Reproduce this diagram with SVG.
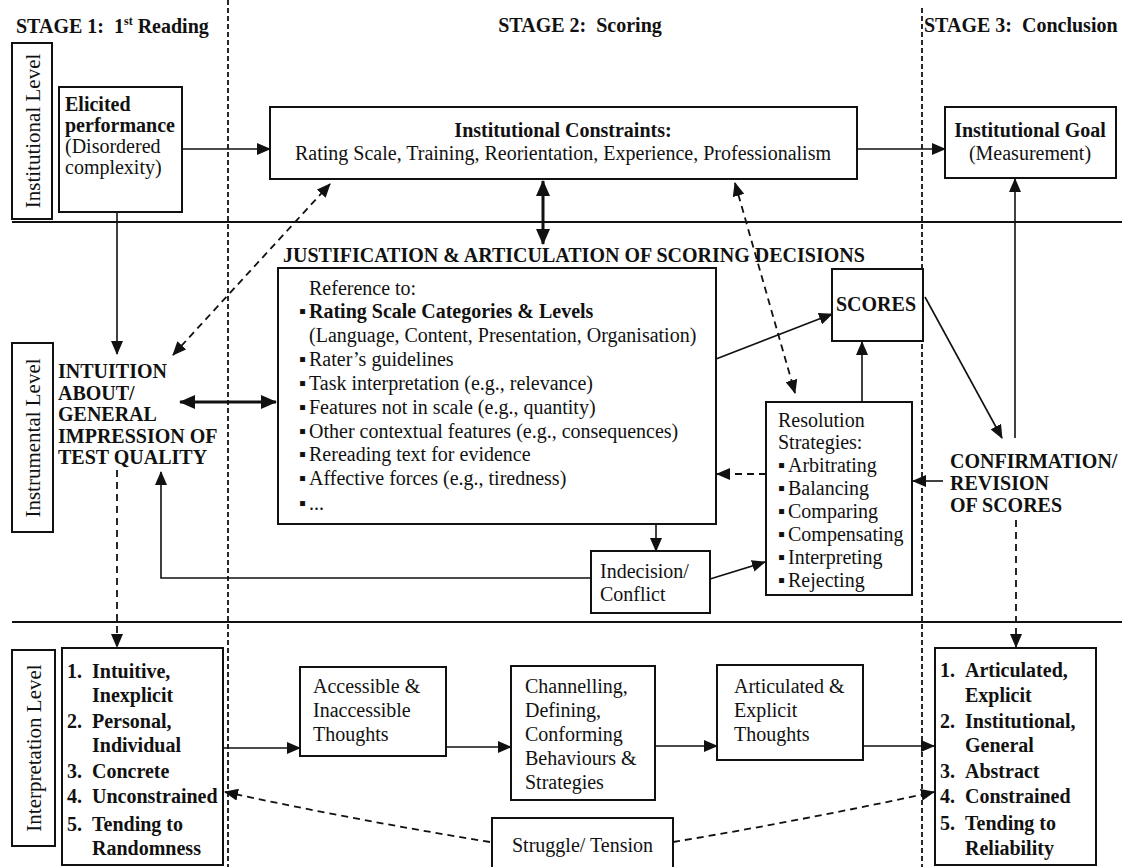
<svg xmlns="http://www.w3.org/2000/svg" width="1128" height="867" viewBox="0 0 1128 867">
<style>
text{font-family:"Liberation Serif","Times New Roman",serif;fill:#111;font-size:20px}
.b{font-weight:bold}
.hd{font-weight:bold;font-size:20px}
.lv{font-size:21px}
.box{fill:#fff;stroke:#111;stroke-width:2}
.sep{stroke:#111;stroke-width:2}
.vd{stroke:#111;stroke-width:1.8;stroke-dasharray:5 3;fill:none}
.c{stroke:#111;stroke-width:1.6;fill:none}
.ck{stroke:#111;stroke-width:3;fill:none}
.cd{stroke:#111;stroke-width:1.8;stroke-dasharray:7 5;fill:none}
</style>
<defs>
<marker id="ah" viewBox="0 0 14 12" refX="13" refY="6" markerWidth="14" markerHeight="12" markerUnits="userSpaceOnUse" orient="auto-start-reverse">
<path d="M0,0 L14,6 L0,12 z" fill="#111"/>
</marker>
<marker id="ahk" viewBox="0 0 16 14" refX="15" refY="7" markerWidth="16" markerHeight="14" markerUnits="userSpaceOnUse" orient="auto-start-reverse">
<path d="M0,0 L16,7 L0,14 z" fill="#111"/>
</marker>
</defs>
<rect x="0" y="0" width="1128" height="867" fill="#fff"/>

<g id="frame">
<line class="vd" x1="228" y1="0" x2="228" y2="867"/>
<line class="vd" x1="922" y1="8" x2="922" y2="867"/>
<line class="sep" x1="12" y1="222" x2="1122" y2="222"/>
<line class="sep" x1="12" y1="622" x2="1122" y2="622"/>
<text class="hd" x="16" y="33">STAGE 1:&#160; 1<tspan font-size="12" dy="-8">st</tspan><tspan dy="8"> Reading</tspan></text>
<text class="hd" x="580" y="32" text-anchor="middle">STAGE 2:&#160; Scoring</text>
<text class="hd" x="924" y="32">STAGE 3:&#160; Conclusion</text>
</g>

<g id="level-institutional">
<rect class="box" x="12" y="43" width="40" height="176"/>
<text class="lv" transform="translate(40,131) rotate(-90)" text-anchor="middle">Institutional Level</text>
</g>
<g id="level-instrumental">
<rect class="box" x="12" y="343" width="41" height="189"/>
<text class="lv" transform="translate(40,438) rotate(-90)" text-anchor="middle">Instrumental Level</text>
</g>
<g id="level-interpretation">
<rect class="box" x="12" y="650" width="43" height="196"/>
<text class="lv" transform="translate(41,748) rotate(-90)" text-anchor="middle">Interpretation Level</text>
</g>

<g id="elicited">
<rect class="box" x="59" y="87" width="123" height="125"/>
<text x="65" y="111"><tspan class="b">Elicited</tspan><tspan class="b" x="65" dy="21">performance</tspan><tspan x="65" dy="21">(Disordered</tspan><tspan x="65" dy="21">complexity)</tspan></text>
</g>

<g id="constraints">
<rect class="box" x="270" y="107" width="587" height="72"/>
<text class="b" x="563" y="137" text-anchor="middle">Institutional Constraints:</text>
<text x="563" y="160" text-anchor="middle">Rating Scale, Training, Reorientation, Experience, Professionalism</text>
</g>

<g id="goal">
<rect class="box" x="945" y="107" width="171" height="71"/>
<text class="b" x="1030" y="137" text-anchor="middle">Institutional Goal</text>
<text x="1030" y="160" text-anchor="middle">(Measurement)</text>
</g>

<g id="intuition">
<text class="b" x="58" y="378">INTUITION<tspan x="58" dy="21.5">ABOUT/</tspan><tspan x="58" dy="21.5">GENERAL</tspan><tspan x="58" dy="21.5">IMPRESSION OF</tspan><tspan x="58" dy="21.5">TEST QUALITY</tspan></text>
</g>

<g id="justification">
<text class="b" x="283" y="262" font-size="19.5">JUSTIFICATION &amp; ARTICULATION OF SCORING DECISIONS</text>
<rect class="box" x="278" y="268" width="438" height="256"/>
<text x="309" y="295">Reference to:</text>
<text x="299" y="318"><tspan>▪</tspan><tspan class="b" x="309">Rating Scale Categories &amp; Levels</tspan></text>
<text x="309" y="342">(Language, Content, Presentation, Organisation)</text>
<text x="299" y="366">▪<tspan x="309">Rater’s guidelines</tspan></text>
<text x="299" y="390">▪<tspan x="309">Task interpretation (e.g., relevance)</tspan></text>
<text x="299" y="414">▪<tspan x="309">Features not in scale (e.g., quantity)</tspan></text>
<text x="299" y="438">▪<tspan x="309">Other contextual features (e.g., consequences)</tspan></text>
<text x="299" y="461">▪<tspan x="309">Rereading text for evidence</tspan></text>
<text x="299" y="485">▪<tspan x="309">Affective forces (e.g., tiredness)</tspan></text>
<text x="299" y="510">▪<tspan x="309">...</tspan></text>
</g>

<g id="scores">
<rect class="box" x="832" y="269" width="91" height="72"/>
<text class="b" x="836" y="311">SCORES</text>
</g>

<g id="resolution">
<rect class="box" x="766" y="402" width="146" height="193"/>
<text x="778" y="427">Resolution</text>
<text x="778" y="449">Strategies:</text>
<text x="778" y="472">▪<tspan x="788">Arbitrating</tspan></text>
<text x="778" y="495">▪<tspan x="788">Balancing</tspan></text>
<text x="778" y="518">▪<tspan x="788">Comparing</tspan></text>
<text x="778" y="541">▪<tspan x="788">Compensating</tspan></text>
<text x="778" y="564">▪<tspan x="788">Interpreting</tspan></text>
<text x="778" y="587">▪<tspan x="788">Rejecting</tspan></text>
</g>

<g id="confirmation">
<text class="b" x="950" y="468" font-size="19">CONFIRMATION/<tspan x="950" dy="22">REVISION</tspan><tspan x="950" dy="22">OF SCORES</tspan></text>
</g>

<g id="indecision">
<rect class="box" x="591" y="551" width="119" height="62"/>
<text x="600" y="578">Indecision/<tspan x="600" dy="23">Conflict</tspan></text>
</g>

<g id="left-list">
<rect class="box" x="62" y="648" width="161" height="217"/>
<text class="b" x="67" y="678">1.<tspan x="92">Intuitive,</tspan><tspan x="92" dy="24">Inexplicit</tspan></text>
<text class="b" x="67" y="728">2.<tspan x="92">Personal,</tspan><tspan x="92" dy="24">Individual</tspan></text>
<text class="b" x="67" y="778">3.<tspan x="92">Concrete</tspan></text>
<text class="b" x="67" y="803">4.<tspan x="92">Unconstrained</tspan></text>
<text class="b" x="67" y="831">5.<tspan x="92">Tending to</tspan><tspan x="92" dy="24">Randomness</tspan></text>
</g>

<g id="accessible">
<rect class="box" x="300" y="667" width="146" height="89"/>
<text x="313" y="693">Accessible &amp;<tspan x="313" dy="24">Inaccessible</tspan><tspan x="313" dy="24">Thoughts</tspan></text>
</g>

<g id="channelling">
<rect class="box" x="511" y="666" width="144" height="134"/>
<text x="525" y="693">Channelling,<tspan x="525" dy="24">Defining,</tspan><tspan x="525" dy="24">Conforming</tspan><tspan x="525" dy="24">Behaviours &amp;</tspan><tspan x="525" dy="24">Strategies</tspan></text>
</g>

<g id="articulated">
<rect class="box" x="717" y="665" width="146" height="95"/>
<text x="734" y="693">Articulated &amp;<tspan x="734" dy="24">Explicit</tspan><tspan x="734" dy="24">Thoughts</tspan></text>
</g>

<g id="right-list">
<rect class="box" x="935" y="648" width="161" height="217"/>
<text class="b" x="940" y="677">1.<tspan x="965">Articulated,</tspan><tspan x="965" dy="25">Explicit</tspan></text>
<text class="b" x="940" y="728">2.<tspan x="965">Institutional,</tspan><tspan x="965" dy="24">General</tspan></text>
<text class="b" x="940" y="778">3.<tspan x="965">Abstract</tspan></text>
<text class="b" x="940" y="803">4.<tspan x="965">Constrained</tspan></text>
<text class="b" x="940" y="830">5.<tspan x="965">Tending to</tspan><tspan x="965" dy="25">Reliability</tspan></text>
</g>

<g id="struggle">
<rect class="box" x="492" y="818" width="181" height="60"/>
<text x="512" y="852">Struggle/ Tension</text>
</g>

<g id="connectors">
<line class="c" x1="182" y1="149" x2="270" y2="149" marker-end="url(#ah)"/>
<line class="c" x1="857" y1="149" x2="945" y2="149" marker-end="url(#ah)"/>
<line class="ck" x1="543" y1="181" x2="543" y2="244" marker-start="url(#ahk)" marker-end="url(#ahk)"/>
<line class="cd" x1="173" y1="355" x2="330" y2="184" marker-start="url(#ah)" marker-end="url(#ah)"/>
<line class="c" x1="117" y1="212" x2="117" y2="354" marker-end="url(#ah)"/>
<line class="ck" x1="180" y1="402" x2="276" y2="402" marker-start="url(#ahk)" marker-end="url(#ahk)"/>
<line class="cd" x1="735" y1="183" x2="795" y2="393" marker-start="url(#ah)" marker-end="url(#ah)"/>
<line class="c" x1="716" y1="359" x2="832" y2="314" marker-end="url(#ah)"/>
<line class="c" x1="862" y1="402" x2="862" y2="342" marker-end="url(#ah)"/>
<line class="cd" x1="766" y1="474" x2="717" y2="474" marker-end="url(#ah)"/>
<line class="c" x1="925" y1="297" x2="1002" y2="438" marker-end="url(#ah)"/>
<line class="c" x1="1015" y1="438" x2="1015" y2="179" marker-end="url(#ah)"/>
<line class="c" x1="943" y1="481" x2="913" y2="481" marker-end="url(#ah)"/>
<line class="cd" x1="1016" y1="520" x2="1016" y2="647" marker-end="url(#ah)"/>
<line class="c" x1="656" y1="524" x2="656" y2="551" marker-end="url(#ah)"/>
<polyline class="c" points="591,578 161,578 161,472" marker-end="url(#ah)"/>
<line class="c" x1="710" y1="579" x2="765" y2="562" marker-end="url(#ah)"/>
<line class="cd" x1="117" y1="470" x2="117" y2="647" marker-end="url(#ah)"/>
<line class="c" x1="223" y1="748" x2="300" y2="748" marker-end="url(#ah)"/>
<line class="c" x1="446" y1="747" x2="511" y2="747" marker-end="url(#ah)"/>
<line class="c" x1="655" y1="746" x2="717" y2="746" marker-end="url(#ah)"/>
<line class="c" x1="863" y1="746" x2="934" y2="746" marker-end="url(#ah)"/>
<path class="cd" d="M490,842 Q355,820 225,792" marker-end="url(#ah)"/>
<path class="cd" d="M673,842 Q805,820 934,792" marker-end="url(#ah)"/>
</g>
</svg>
